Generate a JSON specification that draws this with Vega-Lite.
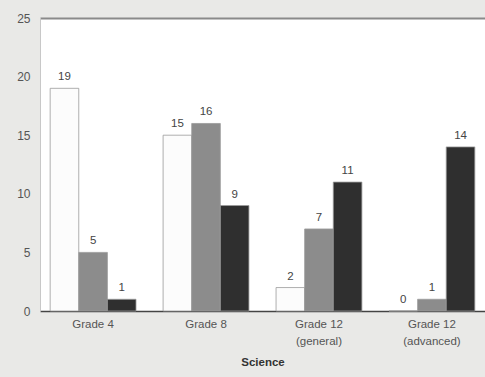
{
  "$schema": "https://vega.github.io/schema/vega-lite/v6.json",
  "autosize": "none",
  "width": 445,
  "height": 293,
  "padding": {"left": 40, "top": 18, "right": 0, "bottom": 66},
  "background": "#e9e9e7",
  "view": {"fill": "white", "stroke": null},
  "config": {"font": "Liberation Sans"},
  "data": {
    "values": [
      {"grade": "Grade 4", "series": "A", "value": 19},
      {"grade": "Grade 4", "series": "B", "value": 5},
      {"grade": "Grade 4", "series": "C", "value": 1},
      {"grade": "Grade 8", "series": "A", "value": 15},
      {"grade": "Grade 8", "series": "B", "value": 16},
      {"grade": "Grade 8", "series": "C", "value": 9},
      {"grade": "Grade 12|(general)", "series": "A", "value": 2},
      {"grade": "Grade 12|(general)", "series": "B", "value": 7},
      {"grade": "Grade 12|(general)", "series": "C", "value": 11},
      {"grade": "Grade 12|(advanced)", "series": "A", "value": 0},
      {"grade": "Grade 12|(advanced)", "series": "B", "value": 1},
      {"grade": "Grade 12|(advanced)", "series": "C", "value": 14}
    ]
  },
  "resolve": {"axis": {"x": "independent"}},
  "layer": [
    {
      "mark": {"type": "bar", "stroke": "#9a9a9a", "strokeWidth": 0.8},
      "encoding": {
        "x": {
          "field": "grade", "type": "nominal", "sort": null,
          "scale": {"paddingInner": 0.24, "paddingOuter": 0.09},
          "axis": {
            "title": "Science", "titleFontSize": 11.5, "titleFontWeight": "bold", "titleColor": "#333",
            "titlePadding": 10,
            "labelExpr": "split(datum.label, '|')", "labelAngle": 0, "labelFontSize": 11.5,
            "labelLineHeight": 17,
            "labelColor": "#555", "ticks": false, "labelPadding": 7,
            "domainColor": "#444", "domainWidth": 1.5
          }
        },
        "xOffset": {"field": "series", "type": "nominal", "scale": {"paddingInner": 0}},
        "y": {
          "field": "value", "type": "quantitative",
          "scale": {"domain": [0, 25], "nice": false},
          "axis": {
            "title": null, "values": [0, 5, 10, 15, 20, 25], "grid": false,
            "labelFontSize": 12, "labelColor": "#555", "ticks": false, "labelPadding": 10,
            "domainColor": "#c8c8c8"
          }
        },
        "color": {
          "field": "series", "type": "nominal", "legend": null,
          "scale": {"domain": ["A", "B", "C"], "range": ["#fcfcfc", "#8c8c8c", "#2f2f2f"]}
        }
      }
    },
    {
      "mark": {"type": "text", "dy": -11, "fontSize": 11.5, "fill": "#444"},
      "encoding": {
        "x": {
          "field": "grade", "type": "nominal", "sort": null,
          "axis": {"orient": "top", "title": null, "labels": false, "ticks": false, "domainColor": "#8a8a8a", "domainWidth": 2}
        },
        "xOffset": {"field": "series", "type": "nominal"},
        "y": {"field": "value", "type": "quantitative"},
        "text": {"field": "value", "type": "quantitative"}
      }
    }
  ]
}
